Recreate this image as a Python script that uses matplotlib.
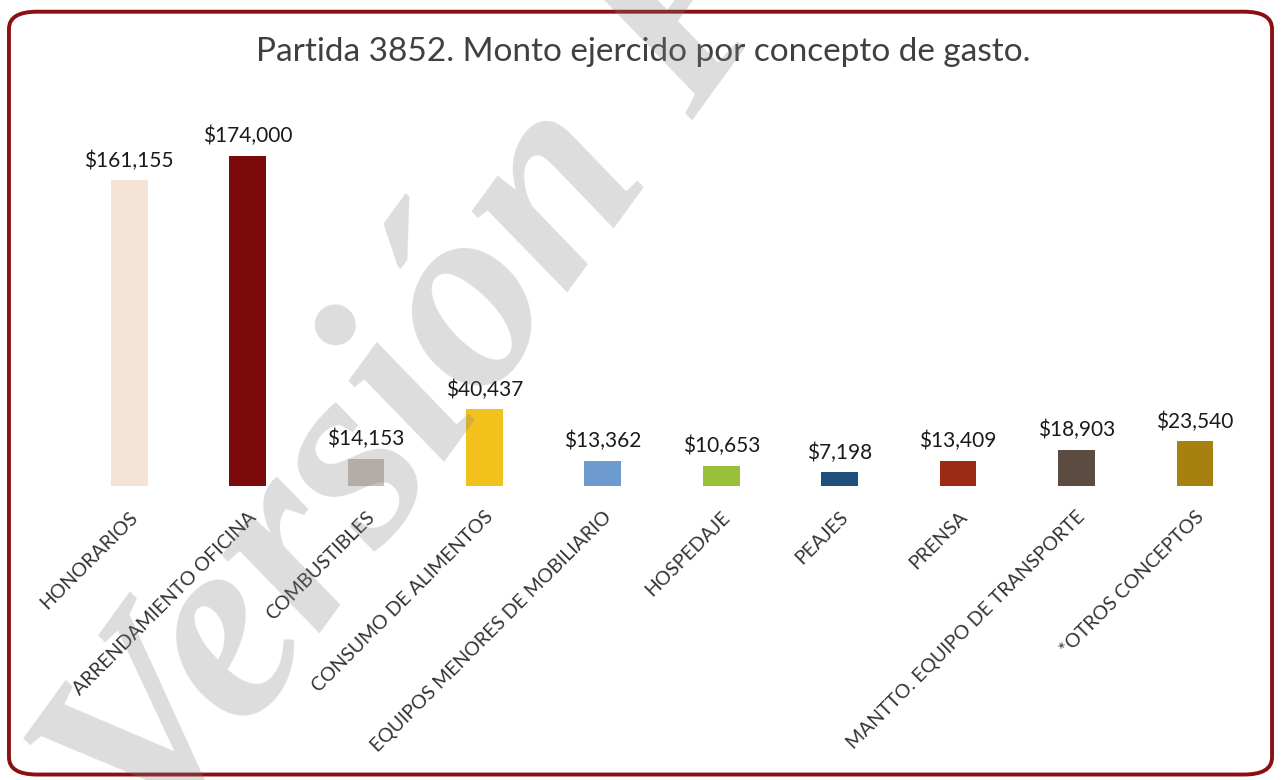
import matplotlib.pyplot as plt
from matplotlib.patches import FancyBboxPatch

# Data
conceptos = ['HONORARIOS', 'ARRENDAMIENTO OFICINA', 'COMBUSTIBLES',
             'CONSUMO DE ALIMENTOS', 'EQUIPOS MENORES DE MOBILIARIO',
             'HOSPEDAJE', 'PEAJES', 'PRENSA',
             'MANTTO. EQUIPO DE TRANSPORTE', '*OTROS CONCEPTOS']
montos = [161155, 174000, 14153, 40437, 13362, 10653, 7198, 13409, 18903, 23540]
colores = ['#F4E4D8', '#7A0A0C', '#C8BEB6', '#F3C11B', '#6D9BCF',
           '#9AC03A', '#1F4F7C', '#9C2A14', '#5B4B41', '#A7810F']

plt.rcParams['font.family'] = ['Lato', 'DejaVu Sans']

fig = plt.figure(figsize=(12.81, 7.80), dpi=100)
ax = fig.add_axes([0.0546, 0.3769, 0.9244, 0.4564])

x = range(len(conceptos))
ax.bar(x, montos, width=0.31, color=colores)

for i, v in enumerate(montos):
    ax.annotate('${:,}'.format(v), (i, v), xytext=(0, 7), textcoords='offset points',
                ha='center', va='bottom', fontsize=15, color='#1a1a1a')

ax.set_xlim(-0.5, len(conceptos) - 0.5)
ax.set_ylim(0, 187700)
ax.set_xticks(list(x))
ax.set_xticklabels(conceptos, rotation=45, ha='right', rotation_mode='anchor',
                   fontsize=14, color='#333333')
ax.tick_params(axis='x', length=0, pad=16)
ax.set_yticks([])
for s in ax.spines.values():
    s.set_visible(False)

fig.text(0.502, 0.933, 'Partida 3852. Monto ejercido por concepto de gasto.',
         ha='center', va='center', fontsize=24, color='#404040')

# rounded frame
frame = FancyBboxPatch((0.007, 0.007), 0.986, 0.978, transform=fig.transFigure,
                       boxstyle='round,pad=0,rounding_size=0.022',
                       facecolor='none', edgecolor='#8B1014', linewidth=2.8)
fig.patches.append(frame)

# watermark
fig.text(158 / 1281, 1 - 857 / 780, 'Versión Pública', rotation=54,
         rotation_mode='anchor', ha='left', va='baseline',
         fontsize=195, family='Liberation Serif', weight='bold', style='italic',
         color='#808080', alpha=0.27)

plt.savefig('out.png')
